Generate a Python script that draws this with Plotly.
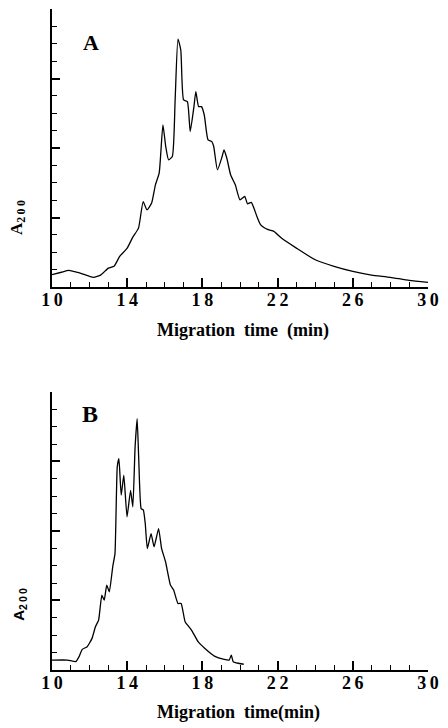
import plotly.graph_objects as go

# Panel A: migration time (min) and absorbance (arbitrary units, minor-tick units)
time_a = [10.0, 10.5, 10.9, 11.5, 12.2, 12.6, 13.0, 13.3, 13.6, 14.0, 14.3, 14.6, 14.85, 15.05,
          15.3, 15.5, 15.7, 15.9, 16.05, 16.2, 16.4, 16.55, 16.7, 16.85, 17.0, 17.2, 17.35, 17.55,
          17.65, 17.8, 17.95, 18.1, 18.3, 18.5, 18.6, 18.8, 19.05, 19.15, 19.3, 19.5, 19.75, 20.0,
          20.25, 20.4, 20.6, 20.9, 21.1, 21.5, 21.8, 22.2, 23.0, 24.0, 25.0, 26.0, 27.0, 28.0,
          29.0, 30.0]
a200_a = [0.71, 0.85, 0.96, 0.80, 0.56, 0.70, 1.09, 1.19, 1.76, 2.24, 2.87, 3.39, 4.92, 4.44,
          4.83, 5.88, 6.55, 9.33, 8.08, 7.32, 7.51, 10.77, 14.27, 13.64, 10.77, 10.67, 8.95, 10.38,
          11.25, 10.38, 10.38, 9.90, 8.47, 8.37, 8.10, 6.74, 7.51, 7.89, 7.41, 6.46, 5.88, 5.02,
          5.21, 4.79, 4.87, 4.06, 3.58, 3.30, 3.20, 2.82, 2.24, 1.57, 1.19, 0.90, 0.69, 0.56,
          0.38, 0.27]

# Panel B
time_b = [10.0, 10.83, 11.27, 11.44, 11.61, 11.87, 12.13, 12.31, 12.48, 12.65, 12.78, 12.91,
          13.05, 13.23, 13.35, 13.47, 13.56, 13.68, 13.82, 13.99, 14.18, 14.30, 14.42, 14.53,
          14.61, 14.74, 14.86, 14.96, 15.07, 15.27, 15.43, 15.67, 15.83, 16.04, 16.30, 16.47,
          16.70, 16.87, 17.08, 17.42, 17.77, 18.12, 18.64, 19.16, 19.42, 19.54, 19.64, 20.2]
a200_b = [0.57, 0.57, 0.48, 0.77, 1.19, 1.34, 1.82, 2.49, 2.87, 4.31, 4.02, 4.89,
          4.50, 5.94, 6.70, 11.69, 12.16, 10.06, 11.21, 8.81, 10.34, 9.39, 12.84, 14.46,
          12.26, 9.29, 9.20, 8.43, 6.99, 7.85, 7.09, 8.14, 6.99, 6.23, 4.89, 4.60,
          3.83, 3.83, 2.78, 2.30, 1.63, 1.25, 0.80, 0.61, 0.57, 0.86, 0.48, 0.33]

x_ticks = [10, 14, 18, 22, 26, 30]
x_tick_text = ["\u2009".join(str(v)) for v in x_ticks]
y_range = [0, 16]

fig = go.Figure()
fig.add_trace(go.Scatter(x=time_a, y=a200_a, mode="lines",
                         line=dict(color="black", width=1.3, shape="spline", smoothing=0.5),
                         xaxis="x", yaxis="y", showlegend=False))
fig.add_trace(go.Scatter(x=time_b, y=a200_b, mode="lines",
                         line=dict(color="black", width=1.3, shape="spline", smoothing=0.4),
                         xaxis="x2", yaxis="y2", showlegend=False))

tickfont = dict(family="Liberation Serif", size=18, color="black", weight="bold")

def xax(anchor):
    return dict(range=[10, 30], anchor=anchor, showgrid=False, zeroline=False,
                showline=True, linecolor="black", linewidth=1.5,
                ticks="inside", ticklen=9, tickwidth=1.5, tickcolor="black",
                tickmode="array", tickvals=x_ticks, ticktext=x_tick_text,
                tickfont=tickfont, ticklabelstandoff=-4,
                minor=dict(ticks="inside", ticklen=5, tickwidth=1, tickcolor="black",
                           dtick=1, tick0=10, showgrid=False))

def yax(anchor, domain):
    return dict(range=y_range, domain=domain, anchor=anchor, showgrid=False, zeroline=False,
                showline=True, linecolor="black", linewidth=1.5,
                ticks="inside", ticklen=8, tickwidth=1.5, tickcolor="black",
                dtick=4, tick0=0, showticklabels=False,
                minor=dict(ticks="inside", ticklen=5, tickwidth=1, tickcolor="black",
                           dtick=1, tick0=0, showgrid=False))

fig.update_layout(
    width=448, height=728,
    margin=dict(l=52, r=12, t=9, b=58),
    paper_bgcolor="white", plot_bgcolor="white",
    xaxis=xax("y"), yaxis=yax("x", [0.5794, 1.0]),
    xaxis2=xax("y2"), yaxis2=yax("x2", [0.0, 0.4206]),
)

serif_b = dict(family="Liberation Serif", color="black", weight="bold")
ann = [
    dict(text="A", x=0.104, y=0.950, font=dict(size=22, **serif_b)),
    dict(text="B", x=0.1016, y=0.387, font=dict(size=24, **serif_b)),
    dict(text="Migration\u00a0\u00a0time\u00a0\u00a0(min)", x=0.508, y=0.5129,
         font=dict(size=18, **serif_b)),
    dict(text="Migration\u00a0\u00a0time(min)", x=0.497, y=-0.065,
         font=dict(size=18, **serif_b)),
    dict(text="A<sub>2\u20090\u20090</sub>", x=-0.091, y=0.685, textangle=-90,
         font=dict(size=17, **serif_b)),
    dict(text="A<sub>2\u20090\u20090</sub>", x=-0.0885, y=0.0998, textangle=-90,
         font=dict(size=15, family="Liberation Sans", color="black", weight="bold")),
]
for a in ann:
    a.update(xref="paper", yref="paper", showarrow=False, xanchor="center", yanchor="middle")
fig.update_layout(annotations=ann)

fig.write_html("out.html", config={"displayModeBar": False},
               post_script="document.body.style.margin='0';document.body.style.overflow='hidden';")
